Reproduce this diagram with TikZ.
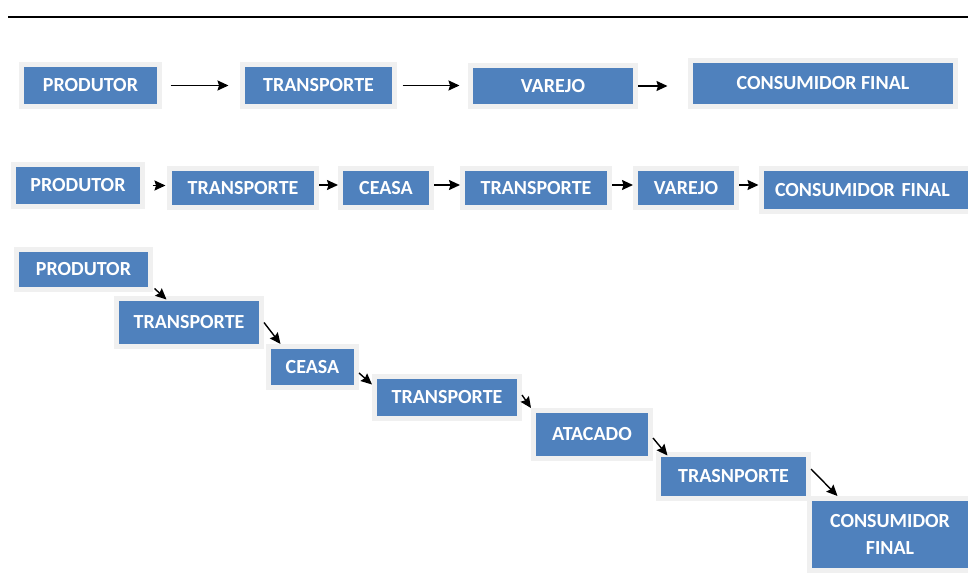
\documentclass[tikz,border=0pt]{standalone}
\usepackage{fontspec}
\setmainfont{Carlito}
\usetikzlibrary{arrows.meta}
\definecolor{boxblue}{RGB}{79,129,189}
\definecolor{boxhalo}{RGB}{240,240,240}
\tikzset{
  etapa/.style={draw=boxhalo, line width=5pt, fill=boxblue, text=white,
    font=\fontsize{20}{27}\selectfont\bfseries, inner sep=0pt, align=center},
  seta/.style={line width=1.4pt, -{Stealth[length=11pt,width=10pt,inset=1.5pt]}},
}
\begin{document}
\begin{tikzpicture}[x=1pt,y=-1pt]
  \useasboundingbox (0,0) rectangle (968,588);
  % rule
  \coordinate (l1) at (8,17);
  \coordinate (l2) at (968,17);
  \draw[line width=2pt] (l1) -- (l2);
  % first chain
  \node[etapa, minimum width=138pt, minimum height=42pt] (a1) at (90.5,85.5) {PRODUTOR};
  \node[etapa, minimum width=152pt, minimum height=42pt] (a2) at (318.5,85.5) {TRANSPORTE};
  \node[etapa, minimum width=165pt, minimum height=41pt] (a3) at (553,86) {VAREJO};
  \node[etapa, minimum width=265pt, minimum height=46pt] (a4) at (823,83.5) {CONSUMIDOR FINAL};
  \draw[seta, shorten <=8.5pt, shorten >=11.5pt] (a1.east) -- (a1.east -| a2.west);
  \draw[seta, shorten <=5.5pt, shorten >=8.5pt] (a2.east) -- (a2.east -| a3.west);
  \draw[seta, shorten >=20.5pt] (a3.east) -- (a3.east -| a4.west);
  % second chain
  \node[etapa, minimum width=129pt, minimum height=42pt] (b1) at (78,185.5) {PRODUTOR};
  \node[etapa, minimum width=147pt, minimum height=39pt] (b2) at (243,188) {TRANSPORTE};
  \node[etapa, minimum width=91pt, minimum height=39pt] (b3) at (386,188) {CEASA};
  \node[etapa, minimum width=147pt, minimum height=39pt] (b4) at (536,188) {TRANSPORTE};
  \node[etapa, minimum width=101pt, minimum height=39pt] (b5) at (686,188) {VAREJO};
  \node[etapa, anchor=west, text width=215pt, align=left, inner xsep=14pt,
    minimum height=43pt] (b6) at (758.5,190) {CONSUMIDOR FINAL};
  \draw[seta, shorten <=7.5pt, shorten >=1.5pt] (b1.east) -- (b1.east -| b2.west);
  \draw[seta] ([yshift=3pt]b2.east) -- ([yshift=3pt]b3.west);
  \draw[seta] ([yshift=3pt]b3.east) -- ([yshift=3pt]b4.west);
  \draw[seta] ([yshift=3pt]b4.east) -- ([yshift=3pt]b5.west);
  \draw[seta] ([yshift=3pt]b5.east) -- ([yshift=3pt]b5.east -| b6.west);
  % third chain (steps)
  \node[etapa, minimum width=134pt, minimum height=40pt] (c1) at (83.5,269.5) {PRODUTOR};
  \node[etapa, minimum width=145pt, minimum height=48pt] (c2) at (189,322.5) {TRANSPORTE};
  \node[etapa, minimum width=88pt, minimum height=41pt] (c3) at (312.5,367) {CEASA};
  \node[etapa, minimum width=145pt, minimum height=42pt] (c4) at (447,397.5) {TRANSPORTE};
  \node[etapa, minimum width=117pt, minimum height=48pt] (c5) at (592,434.5) {ATACADO};
  \node[etapa, minimum width=150pt, minimum height=44pt] (c6) at (733.5,476.5) {TRASNPORTE};
  \node[etapa, minimum width=161pt, minimum height=72pt] (c7) at (890,534.5) {CONSUMIDOR\\FINAL};
  \draw[seta] ([xshift=1.5pt,yshift=3.5pt]c1.south east) -- ([xshift=52.5pt,yshift=-3.5pt]c2.north west);
  \draw[seta] (c2.east) -- ([xshift=14.5pt]c3.north west);
  \draw[seta] ([yshift=-6pt]c3.east) -- ([yshift=-10.5pt]c4.north west);
  \draw[seta] ([yshift=2.5pt]c4.east) -- (c5.north west);
  \draw[seta] ([yshift=-3.5pt]c5.east) -- ([xshift=11.5pt,yshift=-3.5pt]c6.north west);
  \draw[seta] ([yshift=7.5pt]c6.east) -- ([xshift=30.5pt]c7.north west);
\end{tikzpicture}
\end{document}
